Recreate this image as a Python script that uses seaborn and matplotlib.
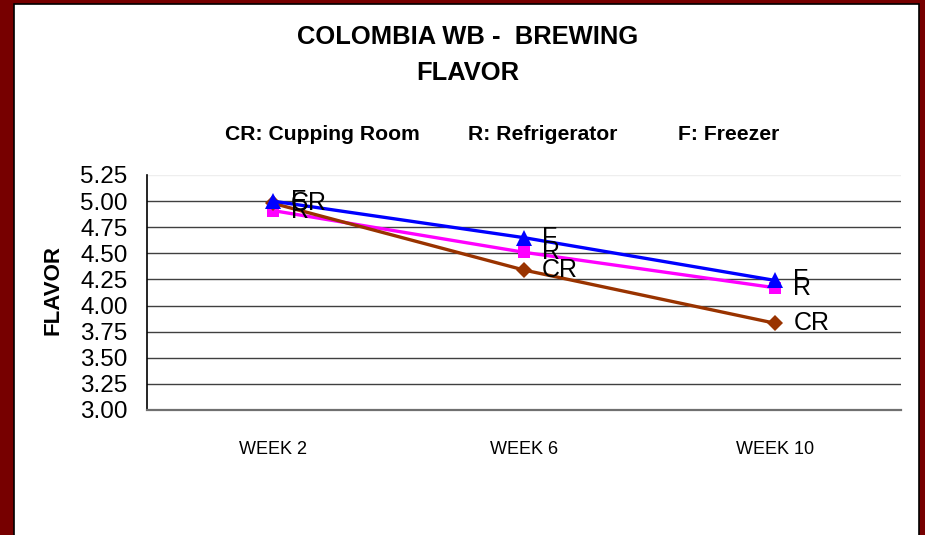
import matplotlib
matplotlib.use("Agg")
import matplotlib.pyplot as plt
import seaborn as sns
import pandas as pd
from matplotlib.patches import Rectangle

# ---- data ----
weeks = ["WEEK 2", "WEEK 6", "WEEK 10"]
series_codes = ["CR", "R", "F"]
cr_values = [4.98, 4.34, 3.83]
r_values = [4.91, 4.51, 4.17]
f_values = [5.00, 4.65, 4.24]
legend_texts = ["CR: Cupping Room", "R: Refrigerator", "F: Freezer"]
y_ticks = [3.00, 3.25, 3.50, 3.75, 4.00, 4.25, 4.50, 4.75, 5.00, 5.25]

sns.set_style("white")
plt.rcParams["font.family"] = ["Liberation Sans", "DejaVu Sans"]
plt.rcParams["text.color"] = "black"
plt.rcParams["xtick.color"] = "black"
plt.rcParams["ytick.color"] = "black"

rows = []
for code, vals in zip(series_codes, [cr_values, r_values, f_values]):
    for w, v in zip(weeks, vals):
        rows.append({"week": w, "series": code, "value": v})
df = pd.DataFrame(rows)
df["x"] = df["week"].map({w: i for i, w in enumerate(weeks)})

W, H = 925, 535
fig = plt.figure(figsize=(W / 100, H / 100), dpi=100)
fig.patch.set_facecolor("#770000")
bg = Rectangle((14 / W, -0.02), (919 - 14) / W, 1.02 - 4 / H,
               transform=fig.transFigure, facecolor="white",
               edgecolor="black", linewidth=1.2, zorder=-5)
fig.patches.append(bg)

ax = fig.add_axes([147 / W, (H - 410) / H, (901 - 147) / W, (410 - 175) / H])
ax.set_zorder(2)
ax.set_facecolor("white")
ax.patch.set_alpha(0)

palette = {"CR": "#993300", "R": "#FF00FF", "F": "#0000FF"}
markers = {"CR": "D", "R": "s", "F": "^"}
sizes = {"CR": 8, "R": 8.5, "F": 11}

for code in ["R", "CR", "F"]:
    sub = df[df["series"] == code]
    sns.lineplot(data=sub, x="x", y="value", color=palette[code], marker=markers[code],
                 markersize=sizes[code], markeredgewidth=0, linewidth=2.4, ax=ax,
                 legend=False, zorder=3)
    for xv, yv in zip(sub["x"], sub["value"]):
        ax.annotate(code, (xv, yv), xytext=(13, 0), textcoords="offset points",
                    ha="left", va="center", fontsize=18, color="black", zorder=4)

ax.set_xlim(-0.5, 2.5)
ax.set_ylim(3.0, 5.25)
ax.set_yticks(y_ticks)
ax.set_yticklabels([f"{t:.2f}" for t in y_ticks], fontsize=17.5)
ax.set_xticks([-0.5, 0.5, 1.5, 2.5])
ax.set_xticklabels([])
ax.set_xticks([0, 1, 2], minor=True)
ax.set_xticklabels(weeks, minor=True, fontsize=13)
ax.tick_params(axis="x", which="minor", length=0, pad=22)
ax.tick_params(axis="x", which="major", length=6, width=1, color="#404040", direction="out")
ax.tick_params(axis="y", length=5, width=1, color="#404040", direction="out", pad=9)
ax.set_xlabel("")
ax.set_ylabel("")

for t in y_ticks:
    if t == 5.25:
        ax.axhline(t, color="#eeeeee", lw=1, zorder=1)
    elif t > 3.0:
        ax.axhline(t, color="#404040", lw=1, zorder=1)

for s in ["top", "right"]:
    ax.spines[s].set_visible(False)
ax.spines["left"].set_color("black")
ax.spines["left"].set_linewidth(1.2)
ax.spines["bottom"].set_color("#707070")
ax.spines["bottom"].set_linewidth(1.6)

fig.text(468 / W, 1 - 37 / H, "COLOMBIA WB -  BREWING", ha="center", va="center",
         fontsize=18.4, fontweight="bold", color="black")
fig.text(468 / W, 1 - 73 / H, "FLAVOR", ha="center", va="center",
         fontsize=18.4, fontweight="bold", color="black")

for txt, xl in zip(legend_texts, [225, 468, 678]):
    fig.text(xl / W, 1 - 135 / H, txt, ha="left", va="center", fontsize=15.2,
             fontweight="bold", color="black")

fig.text(53 / W, 1 - 290 / H, "FLAVOR", ha="center", va="center", rotation=90,
         fontsize=16, fontweight="bold", color="black")

fig.savefig("out.png", dpi=100, facecolor=fig.get_facecolor())
